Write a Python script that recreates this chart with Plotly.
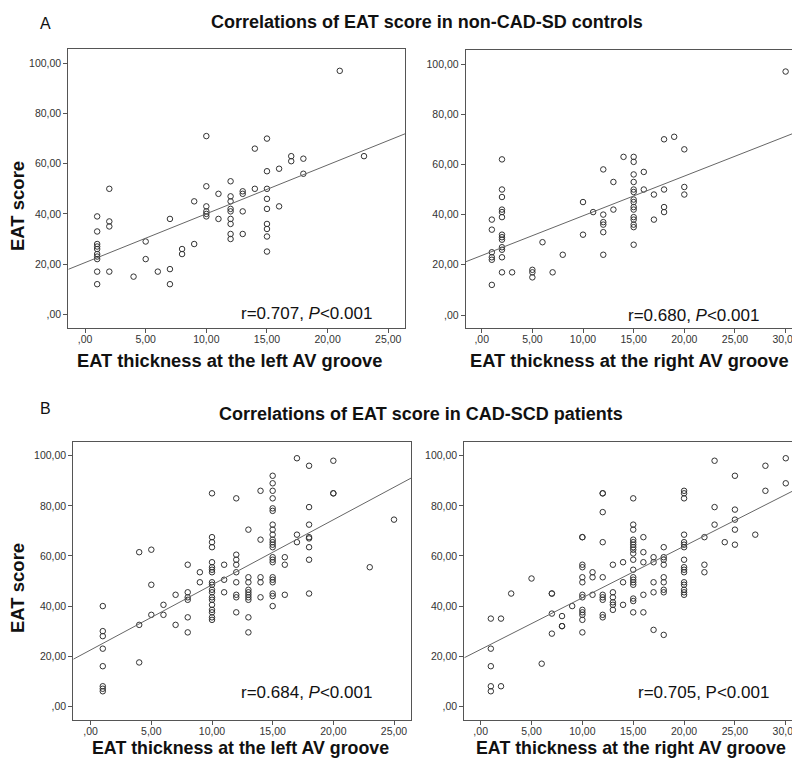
import plotly.graph_objects as go

# ---------------- data ----------------
# Panel A left: EAT thickness at the left AV groove (non-CAD-SD controls)
A_LEFT_X = [1, 2, 4, 5, 6, 7, 8, 9, 10, 11, 12, 13, 14, 15, 16, 17, 18, 21, 23]
A_LEFT_Y = [
    [39, 33, 28, 27, 26, 24, 23, 22, 17, 12],
    [50, 37, 35, 17],
    [15],
    [29, 22],
    [17],
    [38, 18, 12],
    [26, 24],
    [45, 28],
    [71, 51, 43, 41, 40, 39],
    [48, 38],
    [53, 47, 45, 42, 41, 38, 36, 32, 30],
    [49, 48, 41, 32],
    [66, 50],
    [70, 57, 50, 46, 42, 36, 34, 31, 25],
    [58, 43],
    [63, 61],
    [62, 56],
    [97],
    [63],
]
A_LEFT_FIT = (20.6, 1.945)  # intercept, slope

# Panel A right: EAT thickness at the right AV groove (non-CAD-SD controls)
A_RIGHT_X = [1, 2, 3, 5, 6, 7, 8, 10, 11, 12, 13, 14, 15, 16, 17, 18, 19, 20, 30]
A_RIGHT_Y = [
    [38, 34, 25, 23, 22, 12],
    [62, 50, 47, 42, 41, 39, 32, 31, 30, 27, 26, 23, 17],
    [17],
    [18, 17, 15],
    [29],
    [17],
    [24],
    [45, 32],
    [41],
    [58, 40, 37, 36, 33, 24],
    [53, 42],
    [63],
    [63, 61, 56, 53, 50, 49, 46, 45, 43, 42, 39, 38, 36, 35, 28],
    [57, 50],
    [48, 38],
    [70, 50, 43, 41],
    [71],
    [66, 51, 48],
    [97],
]
A_RIGHT_FIT = (23.7, 1.582)

# Panel B left: EAT thickness at the left AV groove (CAD-SCD patients)
B_LEFT_X = [1, 4, 5, 6, 7, 8, 9, 10, 11, 12, 13, 14, 15, 16, 17, 18, 20, 23, 25]
B_LEFT_Y = [
    [40, 30, 28, 23, 16, 8, 7, 6],
    [61.5, 32.5, 17.5],
    [62.5, 48.5, 36.5],
    [40.5, 36.5],
    [44.5, 32.5],
    [56.5, 45.5, 43.5, 42.5, 35.5, 29.5],
    [53.5, 49.5],
    [85, 67.5, 65.5, 63.5, 57.5, 55.5, 54.5, 53.5, 49.5, 48.5, 46.5, 45.5,
     43.5, 42.5, 40.5, 38.5, 37.5, 35.5, 34.5],
    [56.5, 50.5, 45.5],
    [83, 60.5, 58.5, 56.5, 53.5, 49.5, 44.5, 43.5, 37.5],
    [70.5, 51.5, 49.5, 46.5, 45.5, 44.5, 43.5, 42.5, 35.5, 29.5],
    [86, 66.5, 51.5, 49.5, 43.5],
    [92, 89, 86, 83, 79, 78, 72.5, 70.5, 68.5, 66.5, 65.5, 64.5, 63.5, 59.5,
     58.5, 57.5, 51.5, 50.5, 49.5, 45, 44, 40],
    [59.5, 56.5, 44.5],
    [99, 68.5, 65.5],
    [96, 79.5, 72.5, 67.5, 67, 63.5, 58.5, 45],
    [98, 85, 85],
    [55.5],
    [74.5],
]
B_LEFT_FIT = (22.5, 2.597)

# Panel B right: EAT thickness at the right AV groove (CAD-SCD patients)
B_RIGHT_X = [1, 2, 3, 5, 6, 7, 8, 9, 10, 11, 12, 13, 14, 15, 16, 17, 18, 20,
             22, 23, 24, 25, 27, 28, 30]
B_RIGHT_Y = [
    [35, 23, 16, 8, 6],
    [35, 8],
    [45],
    [51],
    [17],
    [45, 45, 37, 29],
    [36, 32, 32],
    [40],
    [67.5, 67.5, 56.5, 55.5, 51.5, 49.5, 44.5, 43.5, 38.5, 37.5, 36.5, 34.5, 29.5],
    [53.5, 51.5, 44.5],
    [85, 85, 77.5, 65.5, 51.5, 44.5, 43.5, 42.5, 36.5, 35.5],
    [56.5, 45.5, 43.5, 41.5, 40.5, 38.5],
    [57.5, 49.5, 40.5],
    [83, 72.5, 70.5, 66.5, 65.5, 64.5, 63.5, 62.5, 61, 58.5, 54.5, 51.5, 50.5,
     49.5, 48.5, 43, 42, 37.5],
    [67.5, 61.5, 57.5, 44.5, 37.5],
    [59.5, 57.5, 49.5, 45.5, 30.5],
    [63.5, 59.5, 58.5, 56.5, 51.5, 49.5, 46.5, 45.5, 28.5],
    [86, 85, 83, 68.5, 65.5, 64.5, 63.5, 58.5, 55.5, 54.5, 53.5, 49.5, 48.5,
     46.5, 45.5, 44.5],
    [67.5, 56.5, 53.5],
    [98, 79.5, 72.5],
    [65.5],
    [92, 78.5, 74.5, 70.5, 64.5],
    [68.5],
    [96, 86],
    [99, 89],
]
B_RIGHT_FIT = (22.7, 2.06)

Y_TICKS = [0, 20, 40, 60, 80, 100]
Y_TICK_TEXT = [",00", "20,00", "40,00", "60,00", "80,00", "100,00"]
X_TICKS_25 = [0, 5, 10, 15, 20, 25]
X_TICK_TEXT_25 = [",00", "5,00", "10,00", "15,00", "20,00", "25,00"]
X_TICKS_30 = [0, 5, 10, 15, 20, 25, 30]
X_TICK_TEXT_30 = [",00", "5,00", "10,00", "15,00", "20,00", "25,00", "30,00"]

TITLE_A = "Correlations of EAT score in non-CAD-SD controls"
TITLE_B = "Correlations of EAT score in CAD-SCD patients"
XLAB_LEFT = "EAT thickness at the left AV groove"
XLAB_RIGHT = "EAT thickness at the right AV groove"
YLAB = "EAT score"
STATS = ["r=0.707, <i>P</i>&lt;0.001", "r=0.680, <i>P</i>&lt;0.001",
         "r=0.684, <i>P</i>&lt;0.001", "r=0.705, P&lt;0.001"]

# ---------------- layout helpers ----------------
# The page body has an 8px default margin, so the figure is made 8px smaller
# and all page-pixel positions are shifted by that offset.
OFF = 8
W, H = 800 - OFF, 760 - OFF
FONT = "Liberation Sans, Arial, sans-serif"
INK = "#333333"
FRAME = "#555555"


def px(x):
    return (x - OFF) / W


def py(y):
    return 1 - (y - OFF) / H


def expand(xs, ys):
    ox, oy = [], []
    for x, col in zip(xs, ys):
        for v in col:
            ox.append(x)
            oy.append(v)
    return ox, oy


panels = [
    (A_LEFT_X, A_LEFT_Y, A_LEFT_FIT, (68.3, 405), (49.3, 328), (-1.38, 26.38), (-5.46, 105.58),
     (X_TICKS_25, X_TICK_TEXT_25), False),
    (A_RIGHT_X, A_RIGHT_Y, A_RIGHT_FIT, (465.7, 800), (50, 328), (-1.58, 31.42), (-5.18, 105.58),
     (X_TICKS_30, X_TICK_TEXT_30), True),
    (B_LEFT_X, B_LEFT_Y, B_LEFT_FIT, (73.3, 411), (441.7, 720), (-1.43, 26.4), (-5.47, 105.6),
     (X_TICKS_25, X_TICK_TEXT_25), False),
    (B_RIGHT_X, B_RIGHT_Y, B_RIGHT_FIT, (464.3, 800), (441.7, 720), (-1.61, 31.4), (-5.47, 105.6),
     (X_TICKS_30, X_TICK_TEXT_30), True),
]

fig = go.Figure()
layout = dict(
    width=W, height=H,
    margin=dict(l=0, r=0, t=0, b=0, autoexpand=False),
    paper_bgcolor="white", plot_bgcolor="white",
    showlegend=False,
    font=dict(family=FONT, color=INK),
)

for i, (xs, ys, fit, xd, yd, xr, yr, xt, right) in enumerate(panels):
    n = "" if i == 0 else str(i + 1)
    mx, my = expand(xs, ys)
    fig.add_trace(go.Scatter(
        x=mx, y=my, mode="markers", xaxis="x" + n, yaxis="y" + n,
        marker=dict(symbol="circle-open", size=5.5, color=INK, line=dict(width=1, color=INK)),
        hoverinfo="skip"))
    b0, b1 = fit
    fig.add_trace(go.Scatter(
        x=[xr[0], xr[1]], y=[b0 + b1 * xr[0], b0 + b1 * xr[1]], mode="lines",
        xaxis="x" + n, yaxis="y" + n, line=dict(color="#666666", width=1),
        hoverinfo="skip"))
    axis_common = dict(showline=True, linecolor=FRAME, linewidth=1, showgrid=False,
                       zeroline=False, ticks="outside", ticklen=4, tickwidth=1,
                       tickcolor=FRAME, tickfont=dict(family=FONT, size=10.5, color=INK))
    layout["xaxis" + n] = dict(axis_common, domain=[px(xd[0]), px(xd[1])], range=list(xr),
                               tickmode="array", tickvals=xt[0], ticktext=xt[1],
                               mirror=True, anchor="y" + n, ticklabelstandoff=-3)
    layout["yaxis" + n] = dict(axis_common, domain=[py(yd[1]), py(yd[0])], range=list(yr),
                               tickmode="array", tickvals=Y_TICKS, ticktext=Y_TICK_TEXT,
                               mirror=(not right), anchor="x" + n)

fig.update_layout(**layout)

ann = []


def add_text(text, x, y, size, bold=False, xanchor="center", angle=0):
    ann.append(dict(text=("<b>%s</b>" % text) if bold else text, x=px(x), y=py(y),
                    xref="paper", yref="paper", showarrow=False, xanchor=xanchor,
                    yanchor="middle", textangle=angle,
                    font=dict(family=FONT, size=size, color="#111111")))


add_text("A", 45.5, 23, 16)
add_text("B", 45.5, 408, 16)
add_text(TITLE_A, 426.5, 22, 18, bold=True)
add_text(TITLE_B, 420.5, 414, 18, bold=True)
add_text(YLAB, 17, 206, 18.5, bold=True, angle=-90)
add_text(YLAB, 17, 588, 18.5, bold=True, angle=-90)
add_text(XLAB_LEFT, 230, 360, 18.3, bold=True)
add_text(XLAB_RIGHT, 629, 360, 18.3, bold=True)
add_text(XLAB_LEFT, 240, 747.5, 17.8, bold=True)
add_text(XLAB_RIGHT, 631, 747.5, 17.8, bold=True)
add_text(STATS[0], 374, 313, 17, xanchor="right")
add_text(STATS[1], 761, 315, 17, xanchor="right")
add_text(STATS[2], 374, 692, 17, xanchor="right")
add_text(STATS[3], 771, 692, 17, xanchor="right")

fig.update_layout(annotations=ann)
fig.write_html("out.html")
